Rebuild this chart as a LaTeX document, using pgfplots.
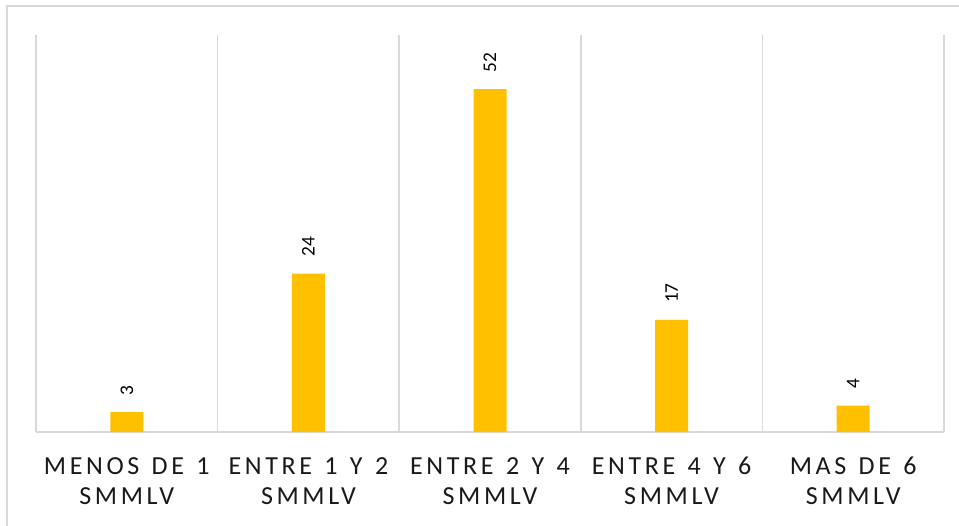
\documentclass[border=0pt]{standalone}
\usepackage{fontspec}
\setmainfont{Carlito}
\newfontfamily\ticklab[LetterSpace=14,WordSpace=1.3]{Carlito}
\usepackage{pgfplots}
\pgfplotsset{compat=1.18}
\definecolor{barorange}{HTML}{FFC000}
\definecolor{gridgray}{HTML}{D9D9D9}
\begin{document}
\begin{tikzpicture}
% 1 px of the reference = 0.75pt
\useasboundingbox (0,0) rectangle (719.25pt,393.75pt);
\draw[gridgray,line width=1.2pt] (5.25pt,-1pt) -- (5.25pt,389.25pt) -- (720pt,389.25pt);
\begin{axis}[
  at={(27pt,69.75pt)}, anchor=south west,
  scale only axis,
  width=681pt, height=297.75pt,
  xmin=-0.5, xmax=4.5, ymin=0, ymax=60.2,
  axis x line*=bottom, axis y line=none,
  x axis line style={gridgray,line width=1.1pt},
  xtick={0,1,2,3,4},
  xticklabels={MENOS DE 1\\SMMLV, ENTRE 1 Y 2\\SMMLV, ENTRE 2 Y 4\\SMMLV, ENTRE 4 Y 6\\SMMLV, MAS DE 6\\SMMLV},
  minor xtick={-0.5,0.5,1.5,2.5,3.5,4.5},
  minor x grid style={gridgray,line width=1.1pt},
  xminorgrids,
  major tick length=0pt, minor tick length=0pt,
  ytick=\empty,
  /pgf/number format/assume math mode=true,
  xticklabel style={align=center, text=black!90, font=\ticklab\fontsize{19.5}{22.5}\selectfont, yshift=-15.5pt},
  ybar, bar width=24.75pt,
  nodes near coords,
  every node near coord/.append style={font=\fontsize{14.5}{18}\selectfont, rotate=90, anchor=west, inner xsep=12.5pt},
]
\addplot[fill=barorange, draw=none] coordinates {(0,3) (1,24) (2,52) (3,17) (4,4)};
\end{axis}
\end{tikzpicture}
\end{document}
